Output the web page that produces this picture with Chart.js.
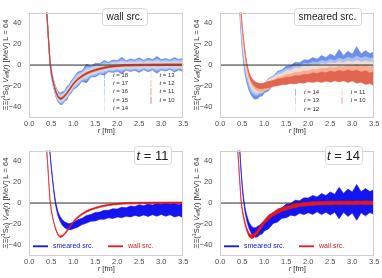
<!DOCTYPE html>
<html>
<head>
<meta charset="utf-8">
<script src="https://cdn.jsdelivr.net/npm/chart.js@4.4.1/dist/chart.umd.min.js"></script>
<style>
  html, body { margin: 0; padding: 0; background: #fff; }
  #wrap { position: relative; width: 382px; height: 278px; overflow: hidden; }
  .pan { position: absolute; width: 191px; height: 139px; }
  canvas { display: block; }
</style>
</head>
<body>
<div id="wrap">
  <div class="pan" style="left:0;top:0"><canvas id="c1" width="191" height="139"></canvas></div>
  <div class="pan" style="left:191px;top:0"><canvas id="c2" width="191" height="139"></canvas></div>
  <div class="pan" style="left:0;top:138px"><canvas id="c3" width="191" height="139"></canvas></div>
  <div class="pan" style="left:191px;top:138px"><canvas id="c4" width="191" height="139"></canvas></div>
</div>
<script>
// r grid [fm]
const rGrid = [0.38, 0.41, 0.44, 0.47, 0.5, 0.53, 0.56, 0.6, 0.65, 0.7, 0.75, 0.8, 0.85, 0.9, 0.95, 1.0,
  1.1, 1.2, 1.3, 1.4, 1.5, 1.6, 1.7, 1.8, 1.9, 2.0, 2.1, 2.2, 2.3, 2.4, 2.5, 2.6, 2.7, 2.8, 2.9, 3.0,
  3.1, 3.2, 3.3, 3.4, 3.5];

const xTicks = [0, 0.5, 1.0, 1.5, 2.0, 2.5, 3.0, 3.5];
const yTicks = [-40, -20, 0, 20, 40];

// wall source: t values and central potential (same for all t)
const tWall = [18, 17, 16, 15, 14, 13, 12, 11, 10];
const wallMid = [60, 42, 22, 3, -7, -13.5, -19, -25, -30, -32, -31.5, -29.5, -27, -24, -21, -18,
  -13.5, -10.5, -8, -6.2, -4.8, -3.6, -2.6, -1.8, -1.2, -0.8, -0.5, -0.3, -0.2, -0.1, 0,
  0.1, 0.1, 0.2, 0.2, 0.2, 0.3, 0.3, 0.3, 0.3, 0.3];

const wallErr18 = [2, 2, 2.5, 3, 3.5, 4, 4, 4.5, 5, 5.5, 6, 5, 6.5, 5, 6, 5.5, 7, 5, 9, 5, 6.5, 5, 7, 4.5, 6, 5, 8, 4.5, 6, 5, 7, 4.5, 6.5, 5, 8, 5, 6, 4.5, 7, 5, 6.5];
const wallErr17 = [1.8, 1.8, 2.2, 2.6, 3, 3.4, 3.6, 4, 4.4, 4.8, 5, 4.5, 5.5, 4.5, 5.2, 4.8, 6, 4.4, 7, 4.5, 5.5, 4.4, 6, 4, 5.2, 4.4, 6.5, 4, 5.2, 4.4, 6, 4, 5.5, 4.4, 6.5, 4.4, 5.2, 4, 6, 4.4, 5.5];
const wallErr16 = [1.5, 1.5, 1.8, 2.2, 2.5, 2.8, 3, 3.3, 3.6, 4, 4.2, 3.8, 4.6, 3.8, 4.4, 4, 5, 3.7, 5.5, 3.8, 4.6, 3.7, 5, 3.4, 4.4, 3.7, 5.2, 3.4, 4.4, 3.7, 5, 3.4, 4.6, 3.7, 5.2, 3.7, 4.4, 3.4, 5, 3.7, 4.6];
const wallErr15 = [1.2, 1.2, 1.4, 1.7, 2, 2.2, 2.4, 2.6, 2.8, 3, 3.2, 2.9, 3.4, 2.9, 3.3, 3, 3.6, 2.8, 4, 2.9, 3.4, 2.8, 3.6, 2.6, 3.3, 2.8, 3.8, 2.6, 3.3, 2.8, 3.6, 2.6, 3.4, 2.8, 3.8, 2.8, 3.3, 2.6, 3.6, 2.8, 3.4];
const wallErr14 = [0.9, 0.9, 1, 1.2, 1.4, 1.5, 1.6, 1.7, 1.8, 1.9, 2, 1.8, 2.1, 1.8, 2, 1.8, 2.1, 1.7, 2.2, 1.7, 1.9, 1.6, 1.9, 1.5, 1.8, 1.5, 1.8, 1.5, 1.7, 1.5, 1.8, 1.5, 1.7, 1.5, 1.8, 1.5, 1.7, 1.5, 1.8, 1.5, 1.7];
const wallErr13 = [0.7, 0.7, 0.8, 0.9, 1, 1.1, 1.2, 1.3, 1.4, 1.4, 1.5, 1.4, 1.5, 1.4, 1.5, 1.4, 1.5, 1.3, 1.6, 1.3, 1.4, 1.2, 1.4, 1.2, 1.3, 1.2, 1.3, 1.2, 1.3, 1.2, 1.3, 1.2, 1.3, 1.2, 1.3, 1.2, 1.3, 1.2, 1.3, 1.2, 1.3];
const wallErr12 = [0.6, 0.6, 0.6, 0.7, 0.8, 0.8, 0.9, 1, 1, 1.1, 1.1, 1, 1.1, 1, 1.1, 1, 1.1, 1, 1.1, 0.9, 1, 0.9, 1, 0.9, 1, 0.9, 1, 0.9, 1, 0.9, 1, 0.9, 1, 0.9, 1, 0.9, 1, 0.9, 1, 0.9, 1];
const wallErr11 = [0.5, 0.5, 0.5, 0.5, 0.6, 0.6, 0.6, 0.7, 0.7, 0.7, 0.8, 0.7, 0.8, 0.7, 0.8, 0.7, 0.8, 0.7, 0.8, 0.7, 0.7, 0.7, 0.7, 0.7, 0.7, 0.7, 0.7, 0.7, 0.7, 0.7, 0.7, 0.7, 0.7, 0.7, 0.7, 0.7, 0.7, 0.7, 0.7, 0.7, 0.7];
const wallErr10 = [0.4, 0.4, 0.4, 0.4, 0.4, 0.5, 0.5, 0.5, 0.5, 0.5, 0.5, 0.5, 0.5, 0.5, 0.5, 0.5, 0.5, 0.5, 0.5, 0.5, 0.5, 0.5, 0.5, 0.5, 0.5, 0.5, 0.5, 0.5, 0.5, 0.5, 0.5, 0.5, 0.5, 0.5, 0.5, 0.5, 0.5, 0.5, 0.5, 0.5, 0.5];

// smeared source
const tSmear = [14, 13, 12, 11, 10];
const smMid14 = [95, 75, 52, 32, 15, 3, -6, -14, -21, -25, -27.5, -28, -27, -25.5, -24, -22, -18.5, -15, -12, -9.5, -7.5, -6, -4.8, -3.8, -3, -2.3, -1.8, -1.3, -1, -0.7, -0.4, -0.2, 0, 0.2, 0.3, 0.5, 0.6, 0.7, 0.8, 0.9, 1];
const smMid13 = [100, 80, 58, 38, 21, 8, -1, -10, -18, -22.5, -24.5, -25, -24.5, -23.5, -22.5, -21, -17.5, -14.5, -12, -10, -8.5, -7.2, -6.2, -5.4, -4.7, -4.2, -3.8, -3.4, -3, -2.7, -2.4, -2.1, -1.8, -1.6, -1.4, -1.2, -1, -0.9, -0.9, -1, -1];
const smMid12 = [105, 82, 60, 42, 26, 13, 3, -6, -14, -19.5, -22, -23, -23, -22.5, -21.8, -20.8, -18, -15.5, -13.5, -11.8, -10.3, -9, -8, -7.2, -6.5, -6, -5.5, -5.1, -4.7, -4.4, -4.1, -3.8, -3.5, -3.3, -3.1, -3, -3, -3, -3.1, -3.2, -3.4];
const smMid11 = [110, 85, 65, 48, 34, 22, 11, -1, -10, -15, -18.5, -20.5, -21.8, -22.5, -22.3, -21.5, -19.5, -17.5, -15.5, -14, -13, -12, -11.2, -10.5, -10, -9.5, -9, -8.5, -8, -7.6, -7.2, -7, -6.8, -6.5, -6.3, -6, -6, -6.2, -6.5, -6.8, -7];
const smMid10 = [120, 95, 72, 52, 36, 24, 13, 1, -8, -13.5, -16.5, -18.5, -19.5, -20, -20, -19.5, -18.5, -17.5, -16.5, -15.8, -15, -14.5, -14, -13.5, -13, -12.5, -12, -11.8, -11.5, -11.3, -11, -10.8, -10.6, -10.5, -10.5, -10.5, -11, -11.5, -12, -12.5, -13];

const smErr14 = [1, 1, 1.2, 1.5, 1.8, 2, 2.3, 2.6, 3, 3.5, 4, 4.5, 5, 4.5, 5.5, 4.5, 6, 4.5, 6, 5, 6.5, 5.5, 7.5, 6, 8, 7, 9, 7, 10, 8, 11, 8.5, 15, 9, 13, 10, 17, 10, 13, 10, 12];
const smErr13 = [0.8, 0.8, 1, 1.2, 1.5, 1.7, 2, 2.2, 2.6, 3, 3.4, 3.8, 4.2, 3.8, 4.5, 3.8, 5, 4, 5, 4.3, 5.5, 4.6, 6, 5, 6.5, 5.5, 7, 5.8, 7.5, 6.2, 8, 6.5, 8.5, 7, 9, 7.5, 9.5, 7.5, 9, 7.5, 8.5];
const smErr12 = [0.7, 0.7, 0.9, 1, 1.3, 1.5, 1.7, 2, 2.3, 2.7, 3, 3.3, 3.6, 3.3, 3.8, 3.4, 4.2, 3.6, 4.4, 3.8, 4.8, 4, 5.2, 4.3, 5.5, 4.6, 6, 5, 6.3, 5.2, 6.6, 5.4, 7, 5.6, 7.2, 5.8, 7.5, 6, 7.2, 6, 7];
const smErr11 = [0.6, 0.6, 0.8, 0.9, 1.1, 1.3, 1.5, 1.7, 2, 2.3, 2.6, 2.8, 3, 2.8, 3.2, 2.9, 3.5, 3, 3.6, 3.2, 4, 3.4, 4.3, 3.6, 4.6, 3.8, 5, 4, 5.3, 4.2, 5.6, 4.4, 6, 4.6, 6.2, 4.8, 6.5, 5, 6.8, 5.2, 7];
const smErr10 = [0.5, 0.5, 0.7, 0.8, 1, 1.1, 1.3, 1.5, 1.7, 2, 2.2, 2.4, 2.6, 2.4, 2.8, 2.5, 3, 2.7, 3.3, 2.9, 3.6, 3.1, 4, 3.3, 4.3, 3.5, 4.6, 3.8, 5, 4, 5.3, 4.2, 5.6, 4.4, 6, 4.6, 6.3, 4.8, 6.6, 5, 7];

const wallErrs = [wallErr18, wallErr17, wallErr16, wallErr15, wallErr14, wallErr13, wallErr12, wallErr11, wallErr10];
const smMids = [smMid14, smMid13, smMid12, smMid11, smMid10];
const smErrs = [smErr14, smErr13, smErr12, smErr11, smErr10];

const wallColors = ['#6283e3', '#86a6f6', '#a9c4fb', '#c9d7ef', '#e0d9d5', '#f0c5b0', '#ee9f82', '#d9654d', '#bb3a2c'];
const smColors = ['#6e8fe9', '#a8c0f4', '#eedcd2', '#f5ae92', '#e2654f'];
const BLUE = '#1414f0';
const RED = '#e31a1c';
const FONT = '"Liberation Sans", Arial, sans-serif';

function band(mid, err, color, edge) {
  return [
    { data: rGrid.map((r, i) => ({ x: r, y: mid[i] - err[i] })), borderColor: color, borderWidth: edge, pointRadius: 0, fill: false },
    { data: rGrid.map((r, i) => ({ x: r, y: mid[i] + err[i] })), borderColor: color, borderWidth: edge, pointRadius: 0, fill: '-1', backgroundColor: color }
  ];
}

function zeroLine() {
  return { data: [{ x: 0, y: 0 }, { x: 3.5, y: 0 }], borderColor: '#2b2b2b', borderWidth: 1, pointRadius: 0, fill: false };
}

// layers come bottom-to-top; chart.js draws higher order first
function stack(layers) {
  const n = layers.length;
  layers.forEach((d, i) => { d.order = n - i; });
  return layers;
}

function fontStr(run, size) {
  return (run.i ? 'italic ' : '') + (size * (run.s || 1)) + 'px ' + FONT;
}

function drawRuns(ctx, runs, x, y, size, align) {
  let w = 0;
  runs.forEach(r => { ctx.font = fontStr(r, size); w += ctx.measureText(r.t).width; });
  let cx = align === 'left' ? x : x - w / 2;
  ctx.textAlign = 'left';
  runs.forEach(r => {
    ctx.font = fontStr(r, size);
    ctx.fillText(r.t, cx, y + (r.dy || 0) * size);
    cx += ctx.measureText(r.t).width;
  });
}

const yTitleRuns = [
  { t: 'ΞΞ(' }, { t: '1', s: 0.7, dy: -0.3 }, { t: 'S' }, { t: '0', s: 0.7, dy: 0.25 },
  { t: ') ' }, { t: 'V', i: true }, { t: 'eff', s: 0.7, dy: 0.25 }, { t: '(' }, { t: 'r', i: true },
  { t: ') [MeV] L = 64' }
];
const xTitleRuns = [{ t: 'r', i: true }, { t: ' [fm]' }];

const decor = {
  id: 'decor',
  afterDraw(chart, args, o) {
    const ctx = chart.ctx, a = chart.chartArea;
    ctx.save();
    ctx.strokeStyle = '#cfcfcf';
    ctx.lineWidth = 1;
    ctx.strokeRect(Math.round(a.left) + 0.5, Math.round(a.top) + 0.5, Math.round(a.right - a.left) - 1, Math.round(a.bottom - a.top) - 1);

    ctx.fillStyle = '#333';
    ctx.textBaseline = 'middle';
    ctx.save();
    ctx.translate(5.5, (a.top + a.bottom) / 2);
    ctx.rotate(-Math.PI / 2);
    drawRuns(ctx, yTitleRuns, 0, 0, 7.5);
    ctx.restore();
    drawRuns(ctx, xTitleRuns, (a.left + a.right) / 2, 131, 7.5);

    if (o.box) {
      const b = o.box;
      ctx.beginPath();
      if (ctx.roundRect) ctx.roundRect(b.x + 0.5, b.y + 0.5, b.w, b.h, 3);
      else ctx.rect(b.x + 0.5, b.y + 0.5, b.w, b.h);
      ctx.fillStyle = 'rgba(255,255,255,0.85)';
      ctx.fill();
      ctx.strokeStyle = '#d9d9d9';
      ctx.stroke();
      ctx.fillStyle = '#222';
      drawRuns(ctx, b.runs, b.x + b.w / 2, b.y + b.h / 2 + 1, b.size);
    }

    if (o.tLegend) {
      const L = o.tLegend;
      L.labels.forEach((t, i) => {
        const col = i < L.rows ? 0 : 1;
        const row = i < L.rows ? i : i - L.rows;
        const x = L.x + col * 46.5, y = L.y + row * 8.4;
        ctx.globalAlpha = 0.6;
        ctx.strokeStyle = L.colors[i];
        ctx.lineWidth = 1;
        ctx.beginPath();
        ctx.moveTo(x + 0.5, y - 3.5);
        ctx.lineTo(x + 0.5, y + 3.5);
        ctx.stroke();
        ctx.globalAlpha = 1;
        ctx.fillStyle = '#333';
        drawRuns(ctx, [{ t: 't', i: true }, { t: ' = ' + t }], x + 9, y, 6, 'left');
      });
    }

    if (o.srcLegend) {
      o.srcLegend.forEach(it => {
        ctx.strokeStyle = it.color;
        ctx.lineWidth = 1.8;
        ctx.beginPath();
        ctx.moveTo(it.x, it.y);
        ctx.lineTo(it.x + 15, it.y);
        ctx.stroke();
        ctx.fillStyle = it.color;
        drawRuns(ctx, [{ t: it.label }], it.x + 20, it.y, 7, 'left');
      });
    }
    ctx.restore();
  }
};

function options(dec) {
  return {
    responsive: false,
    animation: false,
    events: [],
    layout: { padding: { left: 0, right: 7.7, top: 4.7, bottom: 0 } },
    elements: { line: { tension: 0 } },
    plugins: { legend: { display: false }, tooltip: { enabled: false }, decor: dec },
    scales: {
      x: {
        type: 'linear', min: 0, max: 3.5,
        grid: { display: false, drawTicks: false }, border: { display: false },
        afterBuildTicks: s => { s.ticks = xTicks.map(v => ({ value: v })); },
        afterFit: s => { s.height = 21.4; },
        ticks: { padding: 2, color: '#4d4d4d', font: { family: FONT, size: 7.5 }, callback: v => v.toFixed(1) }
      },
      y: {
        type: 'linear', min: -50, max: 50,
        grid: { display: false, drawTicks: false }, border: { display: false },
        afterBuildTicks: s => { s.ticks = yTicks.map(v => ({ value: v })); },
        afterFit: s => { s.width = 29.3; },
        ticks: { padding: 8, color: '#4d4d4d', font: { family: FONT, size: 7.5 }, callback: v => (v < 0 ? '\u2212' + Math.abs(v) : String(v)) }
      }
    }
  };
}

function makeChart(id, datasets, dec) {
  return new Chart(document.getElementById(id), {
    type: 'line',
    data: { datasets },
    options: options(dec),
    plugins: [decor]
  });
}

// panel 1: wall source, all t
let p1 = [];
tWall.forEach((t, i) => {
  if (i === tWall.length - 1) p1.push(zeroLine());
  p1 = p1.concat(band(wallMid, wallErrs[i], wallColors[i], 0.5));
});
makeChart('c1', stack(p1), {
  box: { x: 102, y: 8, w: 45, h: 17, size: 10, runs: [{ t: 'wall src.' }] },
  tLegend: { labels: tWall, colors: wallColors, rows: 5, x: 104, y: 75 }
});

// panel 2: smeared source
let p2 = [];
tSmear.forEach((t, i) => { p2 = p2.concat(band(smMids[i], smErrs[i], smColors[i], 0.5)); });
p2.push(zeroLine());
makeChart('c2', stack(p2), {
  box: { x: 103, y: 8, w: 67, h: 17, size: 10, runs: [{ t: 'smeared src.' }] },
  tLegend: { labels: tSmear, colors: smColors, rows: 3, x: 104, y: 92.3 }
});

// panels 3, 4: comparison at fixed t
function compare(id, tVal) {
  const si = tSmear.indexOf(tVal), wi = tWall.indexOf(tVal);
  const layers = [].concat(
    band(smMids[si], smErrs[si], BLUE, 0.6),
    [zeroLine()],
    band(wallMid, wallErrs[wi], RED, 0.6)
  );
  makeChart(id, stack(layers), {
    box: { x: 134, y: 8, w: 37, h: 18, size: 13, runs: [{ t: 't', i: true }, { t: ' = ' + tVal }] },
    srcLegend: [
      { label: 'smeared src.', color: BLUE, x: 33, y: 108.3 },
      { label: 'wall src.', color: RED, x: 108, y: 108.3 }
    ]
  });
}
compare('c3', 11);
compare('c4', 14);
</script>
</body>
</html>
